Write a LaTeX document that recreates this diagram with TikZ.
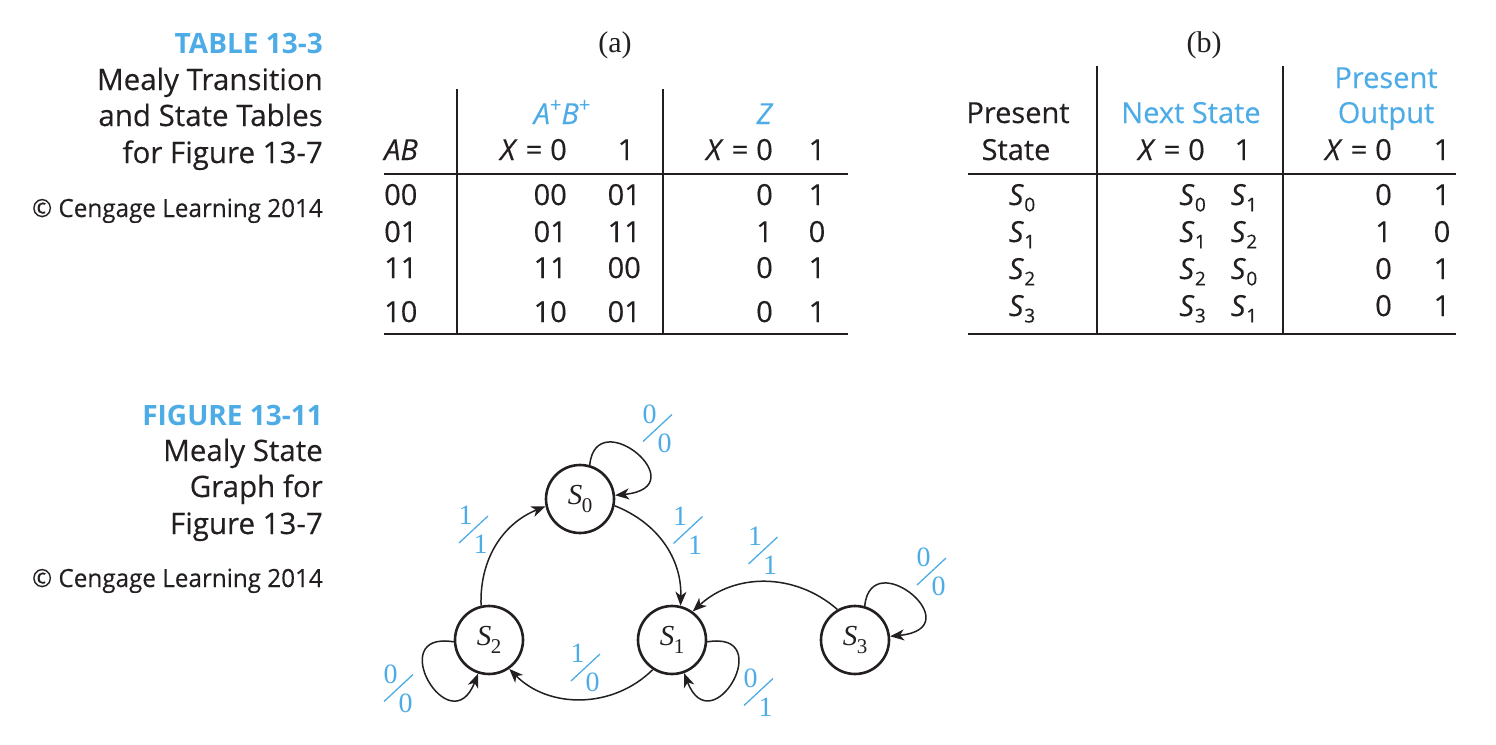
\documentclass[tikz,border=0pt]{standalone}
\usepackage{fontspec}
\setmainfont{Open Sans}[UprightFeatures={FakeBold=0.3},ItalicFeatures={FakeBold=0.3}]
\newfontfamily\serf{Liberation Serif}
\newfontfamily\condf{Open Sans}[FakeStretch=0.97,FakeBold=0.3]
\usetikzlibrary{arrows.meta}
\definecolor{cblue}{RGB}{77,172,230}
\definecolor{ink}{RGB}{35,31,32}
\newcommand\Sx[1]{\textit{S}\kern0.5pt\raisebox{-0.22em}{\fontsize{19}{19}\selectfont #1}}
\newcommand\Sg[1]{{\serf\textit{S}\kern-0.5pt\raisebox{-0.28em}{\fontsize{21}{21}\selectfont #1}}}
\newcommand\Xeq{\textit{X}\kern8pt=\kern8pt0}
\newcommand\Sup{\raisebox{0.42em}{\fontsize{20}{20}\selectfont +}}
\tikzset{
  capt/.style={anchor=base east, inner sep=0, text=ink, font=\fontsize{29.5}{34}\selectfont},
  copyr/.style={anchor=base east, inner sep=0, text=ink, font=\condf\fontsize{25}{30}\selectfont},
  tx/.style={inner sep=0, text=ink, font=\fontsize{29}{35}\selectfont},
  txe/.style={tx, anchor=base east},
  txw/.style={tx, anchor=base west},
  txc/.style={tx, anchor=base},
  rule/.style={ink, line width=1.6pt},
  state/.style={circle, draw=ink, line width=2.6pt, minimum size=68pt, inner sep=0, text=ink, font=\fontsize{29}{30}\selectfont},
  conn/.style={ink, line width=1.5pt, -{Stealth[length=14pt,width=11pt,inset=4pt]}},
  flab/.style={inner sep=0, text=cblue, font=\serf\fontsize{28}{30}\selectfont},
  fslash/.style={cblue, line width=1.3pt},
  paren/.style={inner sep=0, text=ink, font=\serf\fontsize{30}{32}\selectfont},
  head/.style={anchor=base east, inner sep=0, text=cblue, font=\bfseries\fontsize{28}{34}\selectfont}
}
% fraction label: #1 name, #2 x, #3 y (screen), #4 num, #5 den
\newcommand\frlab[5]{%
  \node[flab] (#1n) at (#2-8,-#3+14) {#4};
  \node[flab] (#1d) at (#2+7,-#3-15) {#5};
  \draw[fslash] (#2-14.5,-#3-13.5) -- (#2+14.5,-#3+13.5);
}
\begin{document}
\begin{tikzpicture}[x=1pt,y=1pt]
\useasboundingbox (0,0) rectangle (1496,-744);

% ---------- left captions ----------
\node[head] (tt) at (323,-53) {TABLE 13-3};
\node[capt] (t1) at (323,-90) {Mealy Transition};
\node[capt] (t2) at (323,-126) {and State Tables};
\node[capt] (t3) at (323,-163) {for Figure 13-7};
\node[copyr] (tc) at (323,-217) {© Cengage Learning 2014};

\node[head] (ft) at (323,-425) {FIGURE 13-11};
\node[capt] (f1) at (323,-461) {Mealy State};
\node[capt] (f2) at (323,-497) {Graph for};
\node[capt] (f3) at (323,-534) {Figure 13-7};
\node[copyr] (fc) at (323,-587) {© Cengage Learning 2014};

% ---------- table (a) ----------
\node[paren] (pa) at (615,-45) {(a)};
\draw[rule] (457,-89) -- (457,-334);
\draw[rule] (663,-89) -- (663,-334);
\draw[rule] (384,-174) -- (848,-174);
\draw[rule] (384,-334) -- (848,-334);
\node[txc, text=cblue] (ah1) at (562,-124) {\textit{A}\Sup\textit{B}\Sup};
\node[txc, text=cblue] (ah2) at (765,-124) {\textit{Z}};
\node[txw] (ah3) at (384,-160) {\textit{AB}};
\node[txe] (ah4) at (567,-160) {\Xeq};
\node[txc] (ah5) at (626,-160) {1};
\node[txe] (ah6) at (773,-160) {\Xeq};
\node[txc] (ah7) at (817,-160) {1};
\foreach \y/\a/\b/\c/\d/\e [count=\i] in {205/00/00/01/0/1, 242/01/01/11/1/0, 278/11/11/00/0/1, 322/10/10/01/0/1}{
  \node[txw] (ar\i a) at (384,-\y) {\a};
  \node[txe] (ar\i b) at (567,-\y) {\b};
  \node[txe] (ar\i c) at (641,-\y) {\c};
  \node[txe] (ar\i d) at (773,-\y) {\d};
  \node[txc] (ar\i e) at (817,-\y) {\e};
}

% ---------- table (b) ----------
\node[paren] (pb) at (1204,-45) {(b)};
\draw[rule] (1097,-66) -- (1097,-334);
\draw[rule] (1283,-66) -- (1283,-334);
\draw[rule] (968,-174) -- (1456,-174);
\draw[rule] (968,-334) -- (1456,-334);
\node[txc] (bh1) at (1018,-123) {Present};
\node[txc] (bh2) at (1016,-160) {State};
\node[txc, text=cblue] (bh3) at (1191,-123) {Next State};
\node[txe] (bh4) at (1205,-160) {\Xeq};
\node[txc] (bh5) at (1243,-160) {1};
\node[txc, text=cblue] (bh6) at (1386,-88) {Present};
\node[txc, text=cblue] (bh7) at (1386,-123) {Output};
\node[txe] (bh8) at (1392,-160) {\Xeq};
\node[txc] (bh9) at (1442,-160) {1};
\foreach \y/\a/\b/\c/\d/\e [count=\i] in {205/0/0/1/0/1, 242/1/1/2/1/0, 279/2/2/0/0/1, 316/3/3/1/0/1}{
  \node[txc] (br\i a) at (1022,-\y) {\Sx{\a}};
  \node[txe] (br\i b) at (1206,-\y) {\Sx{\b}};
  \node[txc] (br\i c) at (1244,-\y) {\Sx{\c}};
  \node[txe] (br\i d) at (1392,-\y) {\d};
  \node[txc] (br\i e) at (1442,-\y) {\e};
}

% ---------- state graph ----------
\node[state] (s0) at (580,-499) {\Sg0};
\node[state] (s1) at (672,-640) {\Sg1};
\node[state] (s2) at (489,-640) {\Sg2};
\node[state] (s3) at (855,-640) {\Sg3};

\draw[conn] (s0.74) .. controls (596,-402) and (698,-487) .. (s0.6);
\draw[conn] (s3.74) .. controls (871,-543) and (973,-628) .. (s3.6);
\draw[conn] (s1.-3) .. controls (778,-630) and (712,-745) .. (s1.-70);
\draw[conn] (s2.183) .. controls (383,-630) and (450,-745) .. (s2.-108);

\draw[conn] (s0.-11) to[bend left=35] (s1.76);
\draw[conn] (s2.103) to[bend left=35] (s0.192);
\draw[conn] (s1.237) to[bend left=45] (s2.-55);
\draw[conn] (s3.120) to[bend right=42] (s1.54);

\frlab{l0}{657.5}{428}{0}{0}
\frlab{l1}{688}{530}{1}{1}
\frlab{l2}{473.5}{529.5}{1}{1}
\frlab{l3}{585.5}{667.5}{1}{0}
\frlab{l4}{398.5}{688}{0}{0}
\frlab{l5}{758.5}{692}{0}{1}
\frlab{l6}{763}{550.5}{1}{1}
\frlab{l7}{931.5}{571.5}{0}{0}
\end{tikzpicture}
\end{document}
